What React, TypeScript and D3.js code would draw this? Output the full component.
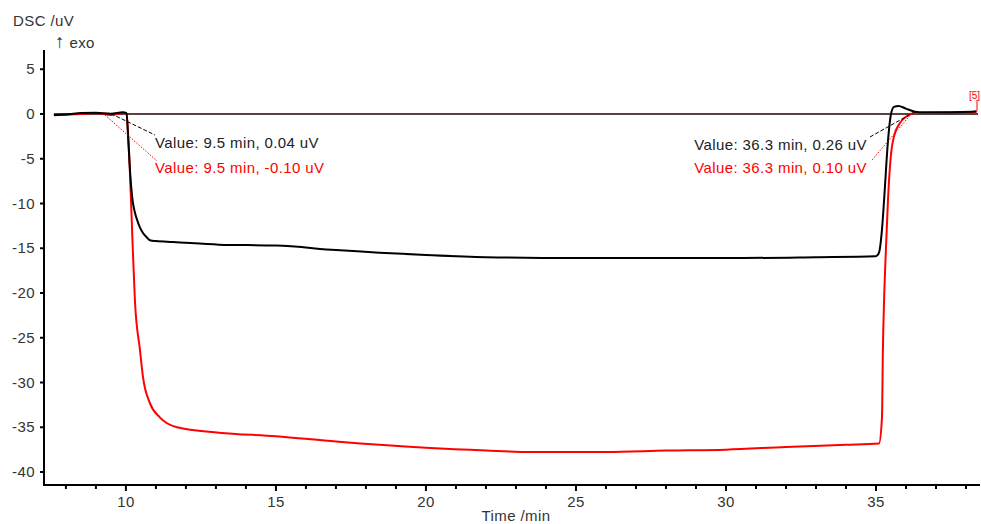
import React from "react";
import * as d3 from "d3";

const blackT = [7.6, 8.0, 8.5, 9.0, 9.5, 9.9, 10.02, 10.08, 10.15, 10.22, 10.3, 10.37, 10.47, 10.57, 10.7, 10.8, 11.0, 11.57, 13.1, 15, 17, 20, 22, 25, 28, 30, 33, 35.0, 35.1, 35.2, 35.27, 35.4, 35.5, 35.6, 35.75, 36.0, 36.3, 36.6, 37.5, 38.2, 38.35];
const blackV = [-0.1, -0.05, 0.1, 0.15, 0.04, 0.2, 0.1, -3, -7, -9.6, -11, -11.8, -12.7, -13.3, -13.8, -14.1, -14.2, -14.3, -14.6, -14.7, -15.2, -15.75, -16.0, -16.1, -16.1, -16.1, -16.0, -15.9, -15.5, -12.9, -9.6, -3, 0, 0.8, 0.9, 0.6, 0.26, 0.2, 0.2, 0.25, 0.3];

const redT = [7.6, 8.5, 9.0, 9.5, 9.9, 10.02, 10.07, 10.17, 10.23, 10.3, 10.47, 10.57, 10.8, 11.13, 11.7, 13.1, 15, 17, 20, 22, 23.5, 26, 28, 30, 32, 34, 35.1, 35.2, 35.23, 35.27, 35.33, 35.4, 35.5, 35.6, 35.8, 36.0, 36.3, 37, 38.35];
const redV = [-0.15, 0.0, 0.1, -0.1, 0.1, 0.0, -2, -9.6, -15.2, -20.8, -26.4, -29.4, -32.3, -33.9, -35.0, -35.6, -36.0, -36.6, -37.3, -37.6, -37.75, -37.75, -37.6, -37.5, -37.2, -36.95, -36.8, -33.9, -26.4, -20.8, -15.2, -9.6, -4.5, -2.5, -1.0, -0.3, 0.1, 0.15, 0.2];

const yTicks = [5, 0, -5, -10, -15, -20, -25, -30, -35, -40];
const xMajor = [10, 15, 20, 25, 30, 35];
const xMinor = d3.range(8, 39);

const annLeftBlack = "Value: 9.5 min, 0.04 uV";
const annLeftRed = "Value: 9.5 min, -0.10 uV";
const annRightBlack = "Value: 36.3 min, 0.26 uV";
const annRightRed = "Value: 36.3 min, 0.10 uV";

export default function App() {
  const W = 981, H = 524;
  const x = d3.scaleLinear().domain([7.27, 38.4]).range([44, 978]);
  const y = d3.scaleLinear().domain([-41.45, 7.15]).range([485, 50]);
  const mk = (ts: number[], vs: number[]) =>
    d3.line<number>().x((t) => x(t)).y((_, i) => y(vs[i])).curve(d3.curveMonotoneX)(ts) || "";
  const font = "'Liberation Sans', Arial, sans-serif";
  const fs = 15;
  const ls = 0.4;
  return (
    <svg width={W} height={H} style={{ position: "absolute", left: 0, top: 0, background: "#fff" }} fontFamily={font} letterSpacing={ls}>
      <line x1={x(7.6)} x2={x(38.4)} y1={y(0)} y2={y(0)} stroke="#2a0000" strokeWidth={1.5} />
      <path d={mk(redT, redV)} fill="none" stroke="#ff0000" strokeWidth={2} />
      <path d={mk(blackT, blackV)} fill="none" stroke="#000" strokeWidth={2} />
      <line x1={977} x2={977} y1={100} y2={y(0.3)} stroke="#ff0000" strokeWidth={1} />
      <text x={980} y={99} fontSize={10} fill="#ff0000" textAnchor="end" letterSpacing={0}>[5]</text>
      <line x1={x(9.5)} y1={y(0.04)} x2={155} y2={135} stroke="#000" strokeWidth={1} strokeDasharray="4,2" />
      <line x1={x(9.3)} y1={y(-0.1)} x2={157} y2={161} stroke="#ff0000" strokeWidth={1} strokeDasharray="1.5,1.5" />
      <line x1={870} y1={137} x2={x(36.3)} y2={y(0.26)} stroke="#000" strokeWidth={1} strokeDasharray="4,2" />
      <line x1={872} y1={160} x2={x(36.2)} y2={y(0.1)} stroke="#ff0000" strokeWidth={1} strokeDasharray="1.5,1.5" />
      <text x={155} y={148} fontSize={fs} fill="#222">{annLeftBlack}</text>
      <text x={155} y={173} fontSize={fs} fill="#ff0000">{annLeftRed}</text>
      <text x={867} y={150} fontSize={fs} fill="#222" textAnchor="end">{annRightBlack}</text>
      <text x={867} y={173} fontSize={fs} fill="#ff0000" textAnchor="end">{annRightRed}</text>
      <line x1={44} x2={44} y1={50} y2={486} stroke="#000" strokeWidth={2} />
      {yTicks.map((t) => (
        <g key={t}>
          <line x1={40} x2={44} y1={y(t)} y2={y(t)} stroke="#000" strokeWidth={2} />
          <text x={35} y={y(t) + 5} fontSize={fs} fill="#333" textAnchor="end">{t}</text>
        </g>
      ))}
      <line x1={43} x2={980} y1={485} y2={485} stroke="#000" strokeWidth={2} />
      {xMinor.map((t) => (
        <line key={t} x1={x(t)} x2={x(t)} y1={485} y2={xMajor.includes(t) ? 491 : 489} stroke="#000" strokeWidth={2} />
      ))}
      {xMajor.map((t) => (
        <text key={t} x={x(t)} y={507} fontSize={fs} fill="#333" textAnchor="middle">{t}</text>
      ))}
      <text x={516} y={521} fontSize={fs} fill="#333" textAnchor="middle">Time /min</text>
      <text x={13} y={26} fontSize={fs} fill="#333">DSC /uV</text>
      <text x={55} y={48} fontSize={fs} fill="#333"><tspan fontSize={19}>↑</tspan> exo</text>
    </svg>
  );
}
